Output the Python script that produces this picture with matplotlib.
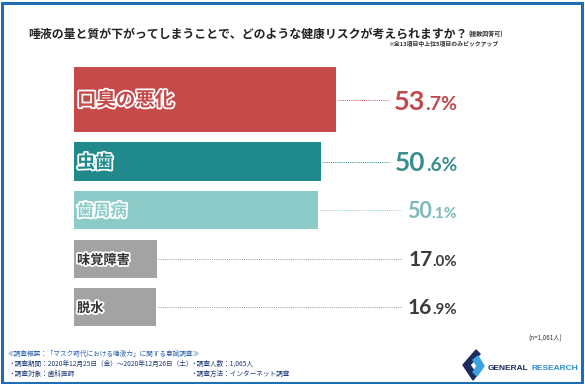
import matplotlib
matplotlib.use('Agg')
import matplotlib.pyplot as plt
import matplotlib.patheffects as pe
from matplotlib.patches import Rectangle, Polygon

plt.rcParams['font.family'] = ['Noto Sans CJK JP', 'DejaVu Sans']

# データ
labels = ['口臭の悪化', '虫歯', '歯周病', '味覚障害', '脱水']
values = [53.7, 50.6, 50.1, 17.0, 16.9]
title = '唾液の量と質が下がってしまうことで、どのような健康リスクが考えられますか？'
note_multi = '(複数回答可)'
note_pick = '※全13項目中上位5項目のみピックアップ'
n_note = '(n=1,061人)'
footer_head = '≪調査概要：「マスク時代における唾液力」に関する意識調査≫'
footer_left = ['・調査期間：2020年12月25日（金）〜2020年12月26日（土）', '・調査対象：歯科医師']
footer_right = ['・調査人数：1,065人', '・調査方法：インターネット調査']

# 見た目
bar_colors = ['#c74a4b', '#1f898b', '#8ccbc8', '#a3a3a3', '#a3a3a3']
value_colors = ['#c0474a', '#3a8d8e', '#7bbab9', '#3a3a3a', '#3a3a3a']
label_colors = ['#c74a4b', '#1f898b', '#8ccbc8', '#333333', '#333333']
label_sizes = [14, 13, 12, 9.5, 9.5]
value_sizes = [19.5, 19, 15.5, 15, 15]
bar_centers = [99.5, 161.5, 210, 259, 307]   # px (上から)
bar_heights = [65, 39, 38, 38, 38]
value_right = 457
px_per_pct = 4.88

W, H = 585, 384
fig = plt.figure(figsize=(W / 100, H / 100), dpi=100)


def fx(x):
    return x / W


def fy(y):
    return 1 - y / H


ax = fig.add_axes([fx(74), 0, (W - 74) / W, 1])
ax.set_xlim(0, (W - 74) / px_per_pct)
ax.set_ylim(H, 0)
ax.axis('off')

ax.barh(bar_centers, values, height=bar_heights, color=bar_colors, zorder=2)

fig.canvas.draw()
renderer = fig.canvas.get_renderer()

for i, (lab, v) in enumerate(zip(labels, values)):
    yc = bar_centers[i]
    fig.text(fx(77), fy(yc + 1), lab, fontsize=label_sizes[i], fontweight='bold',
             color=label_colors[i], va='center', ha='left',
             path_effects=[pe.withStroke(linewidth=2.5, foreground='white')])

    s = f'{v:.1f}'
    big, small = s.split('.')
    base = yc + (10 if i < 2 else 7.5)
    t_small = fig.text(fx(value_right), fy(base), '.' + small + '%',
                       fontsize=value_sizes[i] * 0.72, fontweight='bold',
                       family='Lato', color=value_colors[i], ha='right', va='baseline')
    w_small = t_small.get_window_extent(renderer).width
    t_big = fig.text(fx(value_right - w_small), fy(base), big,
                     fontsize=value_sizes[i], fontweight='bold', family='Lato',
                     color=value_colors[i], ha='right', va='baseline')
    x0 = t_big.get_window_extent(renderer).x0 - 6
    x_end = ax.transData.inverted().transform((x0, 0))[0]
    ax.plot([v + 0.3, x_end], [yc, yc], ls=(0, (1, 1.2)), lw=0.7,
            color=bar_colors[i] if i < 3 else '#9a9a9a', zorder=1)

# タイトル
t = fig.text(fx(28), fy(38), title, fontsize=8.6, fontweight='bold', color='#222222',
             ha='left', va='baseline')
x1 = t.get_window_extent(renderer).x1
fig.text(x1 / W + fx(1), fy(37), note_multi, fontsize=4.3, fontweight='bold',
         color='#333333', ha='left', va='baseline')
fig.text(fx(498), fy(44), note_pick, fontsize=4.2, fontweight='bold', color='#333333',
         ha='right', va='center')

fig.text(fx(562), fy(339), n_note, fontsize=4.5, color='#333333', ha='right', va='center')

# フッター
fig.text(fx(8), fy(354), footer_head, fontsize=4.8, color='#2f66b0', ha='left', va='center')
for j, line in enumerate(footer_left):
    fig.text(fx(8), fy(364 + j * 9.5), line, fontsize=4.8, color='#1f3b78',
             ha='left', va='center')
for j, line in enumerate(footer_right):
    fig.text(fx(190), fy(364 + j * 9.5), line, fontsize=4.8, color='#1f3b78',
             ha='left', va='center')

# ロゴ
navy = [(476, 350), (463, 365), (473, 380), (477, 375), (470, 365), (480, 354)]
light = [(473, 360), (478, 356), (484, 366), (477, 376), (473, 372), (477, 366)]
for pts, col in [(navy, '#1b2b5e'), (light, '#3aa2dc')]:
    fig.patches.append(Polygon([(fx(a), fy(b)) for a, b in pts], closed=True,
                               transform=fig.transFigure, color=col))
logo_font = ['Liberation Sans', 'DejaVu Sans']
g = fig.text(fx(488), fy(368), 'GENERAL', fontsize=6.0, fontweight='bold',
             family=logo_font, color='#1b2b5e', ha='left', va='center')
gx = g.get_window_extent(renderer).x1
fig.text(gx / W + fx(2.5), fy(368), 'RESEARCH', fontsize=6.0, fontweight='bold',
         family=logo_font, color='#2a8fd0', ha='left', va='center')

# 枠
fig.patches.append(Rectangle((fx(1.5), fy(382.5)), fx(580), 380 / H,
                             transform=fig.transFigure, fill=False,
                             edgecolor='#1f6db5', lw=2.2))

fig.savefig('out.png', dpi=100)
